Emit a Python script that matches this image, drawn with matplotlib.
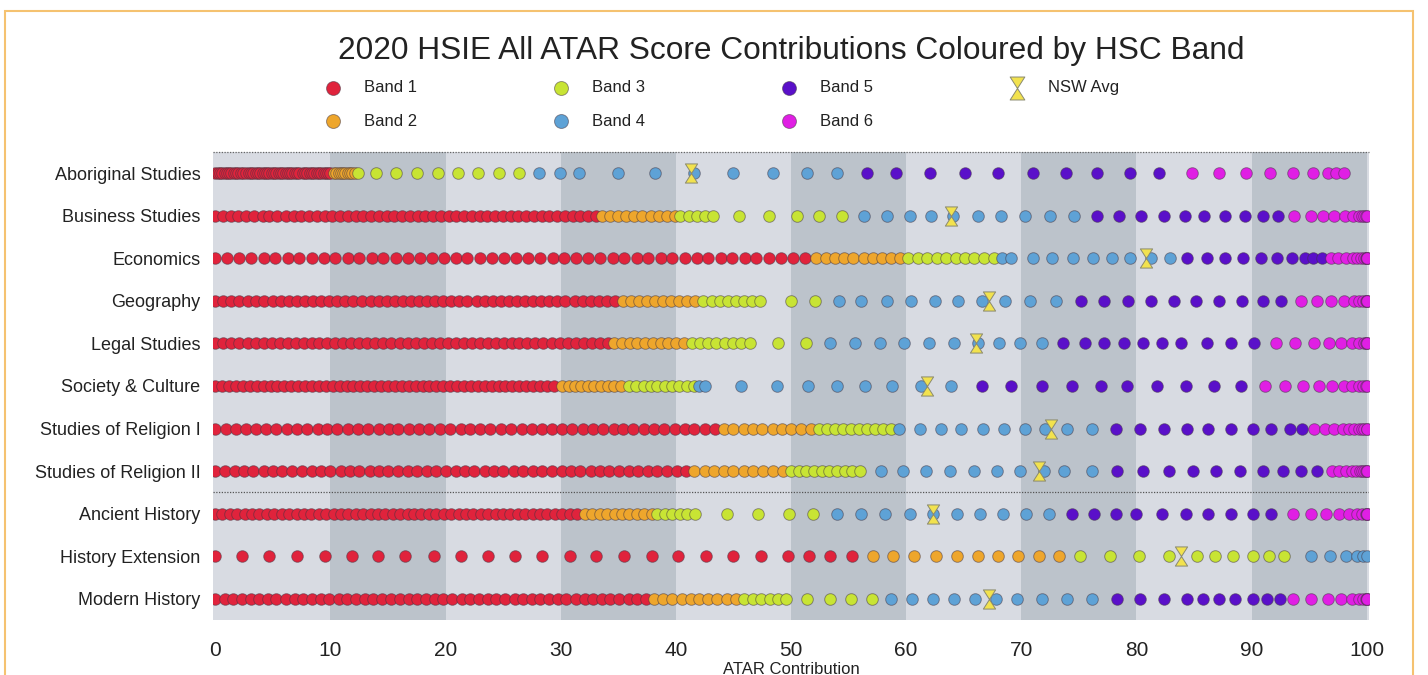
import matplotlib
matplotlib.use("Agg")
import matplotlib.pyplot as plt
from matplotlib.path import Path
from matplotlib.patches import Rectangle

plt.rcParams['font.family'] = ['Liberation Sans', 'DejaVu Sans']

subjects = ["Aboriginal Studies", "Business Studies", "Economics", "Geography",
            "Legal Studies", "Society & Culture", "Studies of Religion I",
            "Studies of Religion II", "Ancient History", "History Extension",
            "Modern History"]

band_labels = ["Band 1", "Band 2", "Band 3", "Band 4", "Band 5", "Band 6"]
band_colors = ["#e0233c", "#eea62c", "#c8e434", "#5ea2d6", "#5a10c9", "#e01fe4"]

nsw_avg = [41.3, 63.9, 80.8, 67.2, 66.1, 61.8, 72.6, 71.5, 62.3, 83.9, 67.2]

band1 = [
    [0.0, 0.2, 0.4, 0.6, 0.8, 1.0, 1.2, 1.4, 1.6, 1.8, 2.0, 2.2, 2.4, 2.7, 2.9, 3.1, 3.3, 3.5, 3.7, 3.9,
     4.1, 4.3, 4.5, 4.7, 4.9, 5.1, 5.3, 5.5, 5.7, 5.9, 6.1, 6.3, 6.5, 6.7, 6.9, 7.1, 7.3, 7.6, 7.8, 8.0,
     8.2, 8.4, 8.6, 8.8, 9.0, 9.2, 9.4, 9.6, 9.8, 10.0],
    [0.0, 0.7, 1.4, 2.0, 2.7, 3.4, 4.1, 4.7, 5.4, 6.1, 6.8, 7.4, 8.1, 8.8, 9.5, 10.1, 10.8, 11.5, 12.2, 12.8,
     13.5, 14.2, 14.9, 15.5, 16.2, 16.9, 17.6, 18.2, 18.9, 19.6, 20.3, 20.9, 21.6, 22.3, 23.0, 23.6, 24.3,
     25.0, 25.7, 26.3, 27.0, 27.7, 28.4, 29.0, 29.7, 30.4, 31.1, 31.7, 32.4, 33.1],
    [0.0, 1.0, 2.1, 3.1, 4.2, 5.2, 6.3, 7.3, 8.4, 9.4, 10.4, 11.5, 12.5, 13.6, 14.6, 15.7, 16.7, 17.8, 18.8,
     19.9, 20.9, 21.9, 23.0, 24.0, 25.1, 26.1, 27.2, 28.2, 29.3, 30.3, 31.3, 32.4, 33.4, 34.5, 35.5, 36.6,
     37.6, 38.7, 39.7, 40.8, 41.8, 42.8, 43.9, 44.9, 46.0, 47.0, 48.1, 49.1, 50.2, 51.2],
    [0.0, 0.7, 1.4, 2.1, 2.8, 3.5, 4.2, 5.0, 5.7, 6.4, 7.1, 7.8, 8.5, 9.2, 9.9, 10.6, 11.3, 12.0, 12.7, 13.5,
     14.2, 14.9, 15.6, 16.3, 17.0, 17.7, 18.4, 19.1, 19.8, 20.5, 21.2, 21.9, 22.7, 23.4, 24.1, 24.8, 25.5,
     26.2, 26.9, 27.6, 28.3, 29.0, 29.7, 30.4, 31.2, 31.9, 32.6, 33.3, 34.0, 34.7],
    [0.0, 0.7, 1.4, 2.1, 2.8, 3.5, 4.2, 4.9, 5.6, 6.3, 7.0, 7.7, 8.4, 9.0, 9.7, 10.4, 11.1, 11.8, 12.5, 13.2,
     13.9, 14.6, 15.3, 16.0, 16.7, 17.4, 18.1, 18.8, 19.5, 20.2, 20.9, 21.6, 22.3, 23.0, 23.7, 24.4, 25.1,
     25.8, 26.4, 27.1, 27.8, 28.5, 29.2, 29.9, 30.6, 31.3, 32.0, 32.7, 33.4, 34.1],
    [0.0, 0.6, 1.2, 1.8, 2.4, 3.0, 3.6, 4.2, 4.8, 5.4, 6.0, 6.6, 7.2, 7.8, 8.4, 9.0, 9.6, 10.2, 10.8, 11.4,
     12.0, 12.6, 13.2, 13.8, 14.4, 15.0, 15.6, 16.2, 16.8, 17.4, 18.0, 18.6, 19.2, 19.8, 20.4, 21.0, 21.6,
     22.2, 22.8, 23.4, 24.0, 24.6, 25.2, 25.8, 26.4, 27.0, 27.6, 28.2, 28.8, 29.4],
    [0.0, 0.9, 1.8, 2.7, 3.5, 4.4, 5.3, 6.2, 7.1, 8.0, 8.9, 9.7, 10.6, 11.5, 12.4, 13.3, 14.2, 15.1, 15.9,
     16.8, 17.7, 18.6, 19.5, 20.4, 21.3, 22.1, 23.0, 23.9, 24.8, 25.7, 26.6, 27.5, 28.4, 29.2, 30.1, 31.0,
     31.9, 32.8, 33.7, 34.6, 35.4, 36.3, 37.2, 38.1, 39.0, 39.9, 40.8, 41.6, 42.5, 43.4],
    [0.0, 0.8, 1.7, 2.5, 3.3, 4.2, 5.0, 5.8, 6.7, 7.5, 8.4, 9.2, 10.0, 10.9, 11.7, 12.5, 13.4, 14.2, 15.0,
     15.9, 16.7, 17.5, 18.4, 19.2, 20.0, 20.9, 21.7, 22.5, 23.4, 24.2, 25.0, 25.9, 26.7, 27.6, 28.4, 29.2,
     30.1, 30.9, 31.7, 32.6, 33.4, 34.2, 35.1, 35.9, 36.7, 37.6, 38.4, 39.2, 40.1, 40.9],
    [0.0, 0.6, 1.3, 1.9, 2.6, 3.2, 3.8, 4.5, 5.1, 5.8, 6.4, 7.1, 7.7, 8.3, 9.0, 9.6, 10.3, 10.9, 11.5, 12.2,
     12.8, 13.5, 14.1, 14.7, 15.4, 16.0, 16.7, 17.3, 17.9, 18.6, 19.2, 19.9, 20.5, 21.2, 21.8, 22.4, 23.1,
     23.7, 24.4, 25.0, 25.6, 26.3, 26.9, 27.6, 28.2, 28.8, 29.5, 30.1, 30.8, 31.4],
    [0.0, 2.3, 4.7, 7.1, 9.5, 11.9, 14.1, 16.5, 19.0, 21.3, 23.7, 26.0, 28.4, 30.8, 33.1, 35.5, 37.9, 40.2,
     42.6, 45.0, 47.4, 49.7, 51.6, 53.4, 55.3],
    [0.0, 0.8, 1.5, 2.3, 3.1, 3.8, 4.6, 5.3, 6.1, 6.9, 7.6, 8.4, 9.2, 9.9, 10.7, 11.4, 12.2, 13.0, 13.7, 14.5,
     15.3, 16.0, 16.8, 17.5, 18.3, 19.1, 19.8, 20.6, 21.4, 22.1, 22.9, 23.7, 24.4, 25.2, 26.0, 26.7, 27.5,
     28.2, 29.0, 29.8, 30.5, 31.3, 32.1, 32.8, 33.6, 34.3, 35.1, 35.9, 36.6, 37.4],
]

band2 = [
    [10.3, 10.5, 10.7, 10.9, 11.1, 11.3, 11.5, 11.7, 11.9, 12.1],
    [33.6, 34.3, 35.0, 35.7, 36.4, 37.1, 37.8, 38.5, 39.2, 39.9],
    [52.2, 53.0, 53.8, 54.6, 55.4, 56.3, 57.1, 57.9, 58.7, 59.5],
    [35.4, 36.1, 36.8, 37.5, 38.2, 38.9, 39.6, 40.3, 41.0, 41.7],
    [34.6, 35.3, 36.0, 36.6, 37.3, 38.0, 38.7, 39.3, 40.0, 40.7],
    [30.1, 30.7, 31.2, 31.8, 32.4, 32.9, 33.5, 34.1, 34.6, 35.2],
    [44.2, 45.0, 45.9, 46.7, 47.5, 48.4, 49.2, 50.0, 50.9, 51.7],
    [41.6, 42.5, 43.3, 44.2, 45.0, 45.9, 46.7, 47.6, 48.4, 49.3],
    [32.1, 32.7, 33.4, 34.0, 34.7, 35.3, 35.9, 36.6, 37.2, 37.9],
    [57.1, 58.9, 60.7, 62.6, 64.4, 66.2, 68.0, 69.7, 71.5, 73.3],
    [38.1, 38.9, 39.7, 40.5, 41.3, 42.0, 42.8, 43.6, 44.4, 45.2],
]

band3 = [
    [12.4, 14.0, 15.7, 17.5, 19.3, 21.1, 22.8, 24.6, 26.4],
    [40.4, 41.1, 41.8, 42.5, 43.2, 45.5, 48.1, 50.5, 52.4, 54.4],
    [60.2, 61.0, 61.8, 62.7, 63.5, 64.3, 65.1, 65.9, 66.8, 67.6],
    [42.4, 43.1, 43.8, 44.5, 45.2, 45.9, 46.6, 47.3, 50.0, 52.1],
    [41.4, 42.1, 42.8, 43.5, 44.3, 45.0, 45.7, 46.4, 48.9, 51.3],
    [35.9, 36.5, 37.2, 37.8, 38.4, 39.1, 39.7, 40.3, 41.0, 41.6],
    [52.4, 53.1, 53.8, 54.5, 55.2, 55.9, 56.6, 57.3, 58.0, 58.7],
    [50.0, 50.7, 51.3, 52.0, 52.7, 53.3, 54.0, 54.7, 55.3, 56.0],
    [38.4, 39.1, 39.7, 40.4, 41.0, 41.7, 44.4, 47.1, 49.8, 51.9],
    [75.1, 77.7, 80.2, 82.8, 85.3, 86.8, 88.4, 90.1, 91.5, 92.8],
    [45.9, 46.7, 47.4, 48.2, 48.9, 49.6, 51.4, 53.4, 55.2, 57.0],
]

band4 = [
    [28.1, 29.9, 31.6, 35.0, 38.2, 41.6, 45.0, 48.4, 51.4, 54.0],
    [56.3, 58.3, 60.3, 62.2, 64.1, 66.2, 68.2, 70.3, 72.5, 74.6],
    [68.3, 69.1, 71.0, 72.7, 74.5, 76.2, 77.9, 79.4, 81.3, 82.9],
    [54.2, 56.1, 58.3, 60.4, 62.5, 64.5, 66.6, 68.6, 70.8, 73.0],
    [53.4, 55.6, 57.7, 59.8, 62.0, 64.2, 66.2, 68.1, 69.9, 71.8],
    [42.0, 42.5, 45.7, 48.8, 51.5, 54.0, 56.4, 58.8, 61.3, 63.9],
    [59.4, 61.2, 63.0, 64.8, 66.7, 68.5, 70.3, 72.1, 74.0, 76.1],
    [57.8, 59.7, 61.7, 63.8, 65.9, 67.9, 69.9, 72.0, 73.7, 76.1],
    [54.0, 56.1, 58.2, 60.3, 62.3, 64.4, 66.4, 68.4, 70.4, 72.4],
    [95.2, 96.8, 98.2, 99.2, 99.7, 100.0],
    [58.7, 60.5, 62.3, 64.2, 66.0, 67.8, 69.6, 71.8, 74.0, 76.1],
]

band5 = [
    [56.6, 59.1, 62.1, 65.1, 68.0, 71.0, 73.9, 76.6, 79.4, 82.0],
    [76.6, 78.5, 80.4, 82.4, 84.2, 85.9, 87.7, 89.4, 91.0, 92.3],
    [84.4, 86.1, 87.7, 89.3, 90.8, 92.2, 93.5, 94.6, 95.3, 96.1],
    [75.2, 77.2, 79.3, 81.3, 83.3, 85.2, 87.2, 89.2, 91.0, 92.6],
    [73.6, 75.5, 77.2, 78.9, 80.6, 82.2, 83.9, 86.1, 88.2, 90.2],
    [66.6, 69.1, 71.8, 74.4, 76.9, 79.2, 81.8, 84.3, 86.7, 89.1],
    [78.2, 80.3, 82.4, 84.4, 86.2, 88.2, 90.1, 91.7, 93.3, 94.4],
    [78.3, 80.6, 82.8, 84.9, 86.9, 89.0, 91.0, 92.7, 94.3, 95.7],
    [74.4, 76.3, 78.2, 80.0, 82.2, 84.3, 86.2, 88.2, 90.1, 91.7],
    [],
    [78.3, 80.3, 82.4, 84.4, 85.8, 87.2, 88.6, 90.1, 91.3, 92.5],
]

band6 = [
    [84.8, 87.2, 89.5, 91.6, 93.6, 95.3, 96.6, 97.3, 98.0],
    [93.7, 95.2, 96.2, 97.2, 98.1, 98.8, 99.3, 99.6, 99.8, 99.9, 100.0],
    [96.9, 97.5, 98.2, 98.8, 99.2, 99.5, 99.8, 99.9, 100.0, 100.0, 100.0],
    [94.3, 95.7, 96.9, 98.0, 98.9, 99.3, 99.7, 99.9, 100.0, 100.0, 100.0],
    [92.1, 93.8, 95.4, 96.7, 97.8, 98.7, 99.3, 99.8, 99.9, 100.0, 100.0],
    [91.2, 92.9, 94.5, 95.9, 97.0, 98.0, 98.7, 99.3, 99.7, 99.9, 100.0],
    [95.4, 96.4, 97.2, 97.9, 98.5, 98.9, 99.3, 99.6, 99.8, 100.0, 100.0],
    [97.0, 97.6, 98.2, 98.7, 99.1, 99.4, 99.6, 99.8, 99.9, 100.0, 100.0],
    [93.6, 95.2, 96.5, 97.6, 98.5, 99.2, 99.6, 99.9, 100.0, 100.0, 100.0],
    [],
    [93.6, 95.2, 96.6, 97.8, 98.7, 99.3, 99.7, 99.9, 100.0, 100.0, 100.0],
]

all_bands = [band1, band2, band3, band4, band5, band6]

W, H = 1428, 675
fig = plt.figure(figsize=(W / 100, H / 100), dpi=100)
fig.patch.set_facecolor('white')

ax_l, ax_r, ax_t, ax_b = 213, 1369, 152, 620
ax = fig.add_axes([ax_l / W, 1 - ax_b / H, (ax_r - ax_l) / W, (ax_b - ax_t) / H])
ax.set_xlim(-0.2, 100.2)
ax.set_ylim(len(subjects) - 0.5, -0.5)

light = '#d8dbe2'
dark = '#bcc3cb'
ax.set_facecolor(light)
for i in range(10):
    ax.axvspan(i * 10, (i + 1) * 10, color=(light if i % 2 == 0 else dark), lw=0, zorder=0)

# dotted separators
ax.axhline(-0.5, color='#666666', lw=0.9, ls=(0, (1, 1.2)), zorder=1, clip_on=False)
ax.axhline(7.5, color='#555555', lw=0.9, ls=(0, (1, 1.2)), zorder=1)

dot_size = 70
for b, (band, col) in enumerate(zip(all_bands, band_colors)):
    for i, vals in enumerate(band):
        if not vals:
            continue
        ax.scatter(vals, [i] * len(vals), s=dot_size, color=col,
                   edgecolors=(0.25, 0.2, 0.25, 0.5), linewidths=0.7, zorder=3,
                   label=(band_labels[b] if i == 0 else None))

hourglass = Path([(-0.32, 0.5), (0.32, 0.5), (-0.32, -0.5), (0.32, -0.5), (-0.32, 0.5)],
                 [Path.MOVETO, Path.LINETO, Path.LINETO, Path.LINETO, Path.CLOSEPOLY])
ax.scatter(nsw_avg, list(range(len(subjects))), marker=hourglass, s=190,
           color='#f2e24e', edgecolors='#8a8a70', linewidths=0.7, zorder=5, label='NSW Avg')

for s in ax.spines.values():
    s.set_visible(False)

ax.set_xticks(range(0, 101, 10))
ax.set_yticks(range(len(subjects)))
ax.set_yticklabels(subjects)
ax.tick_params(axis='x', length=0, pad=15, labelsize=15, labelcolor='#222222')
ax.tick_params(axis='y', length=0, pad=9, labelsize=13, labelcolor='#222222')
ax.set_xlabel('ATAR Contribution', fontsize=12, color='#222222', labelpad=1.5)

fig.text(791 / W, 1 - 51 / H, '2020 HSIE All ATAR Score Contributions Coloured by HSC Band',
         ha='center', va='center', fontsize=22.8, color='#222222')

handles, labels = ax.get_legend_handles_labels()
fig.legend(handles, labels, ncol=4, loc='upper left',
           bbox_to_anchor=(316 / W, 1 - 72 / H), frameon=False, fontsize=12,
           borderpad=0, handlelength=1.0, handletextpad=1.4, columnspacing=8.1,
           labelspacing=1.1, scatterpoints=1, markerscale=1.2, labelcolor='#222222')

fig.patches.append(Rectangle((5 / W, -0.1), (1413 - 5) / W, (H - 11) / H + 0.1,
                             transform=fig.transFigure, fill=False,
                             edgecolor='#f5c270', linewidth=1.5, zorder=10))

fig.savefig('out.png', dpi=100)
